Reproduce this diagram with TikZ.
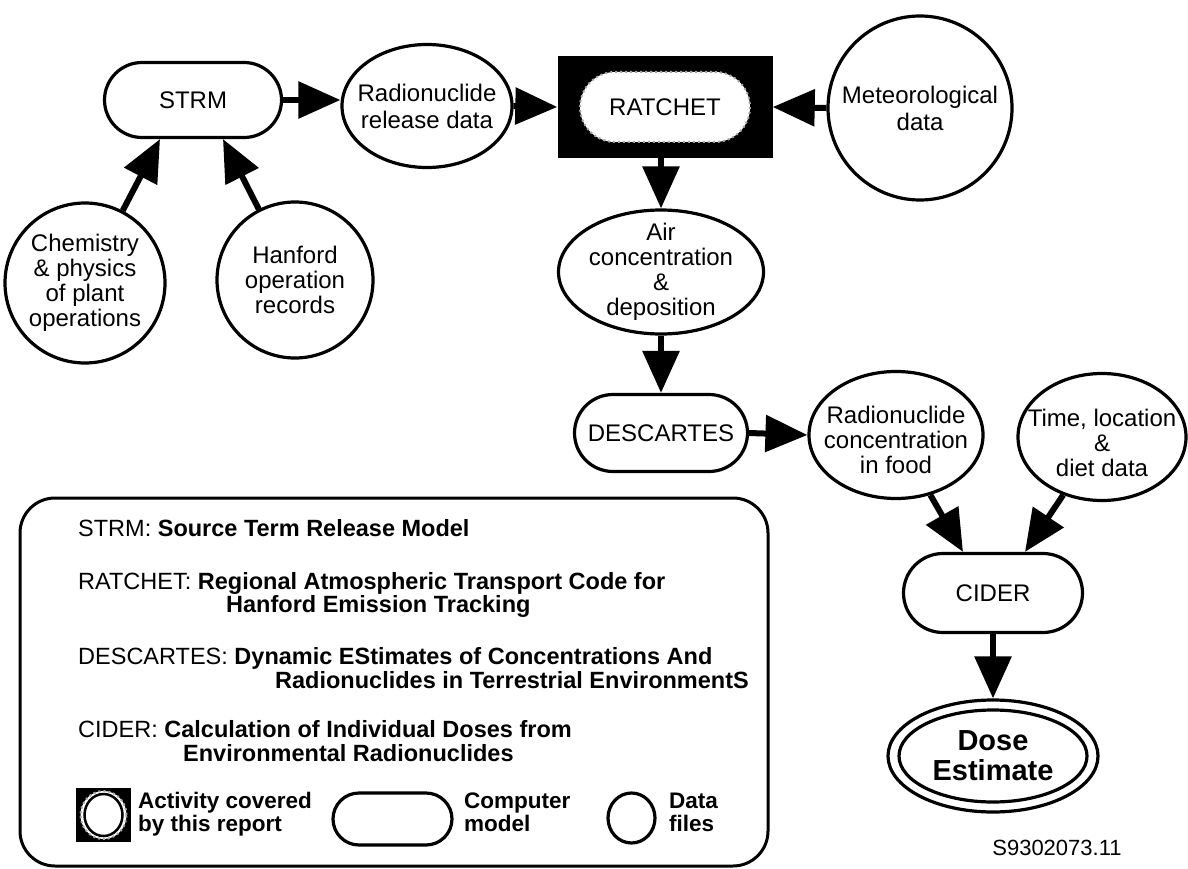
\documentclass[tikz,border=0pt]{standalone}
\usepackage{fontspec}
\setmainfont{Liberation Sans}
\usetikzlibrary{shapes.geometric,shapes.misc,arrows.meta}
\begin{document}
\begin{tikzpicture}[x=1pt,y=-1pt,
  every node/.style={font=\fontsize{24}{27}\selectfont},
  pill/.style={rounded rectangle, draw, line width=3.2pt, inner sep=0pt},
  dfile/.style={ellipse, draw, line width=3.2pt, inner sep=0pt},
  txt/.style={align=center, inner sep=0pt},
  tight/.style={font=\fontsize{24}{25}\selectfont},
  flow/.style={line width=6pt, -{Triangle[length=42pt,width=36pt]}},
  lgd/.style={anchor=base west, inner sep=0pt, font=\fontsize{23.5}{24}\selectfont},
  key/.style={anchor=base west, inner sep=0pt, font=\fontsize{22.5}{23}\selectfont\bfseries},
  speckle/.style={draw=black!35, dash pattern=on 2pt off 3pt, line width=2pt},
]
\useasboundingbox (0,0) rectangle (1188,869);

% ---- computer models and data files ----
\node[pill, minimum width=177pt, minimum height=75pt] (strm) at (193,100) {STRM};
\node[dfile, minimum width=170pt, minimum height=123pt,
      label={[txt]center:Radionuclide\\release data}] (rel) at (427,106) {};
\node[fill=black, minimum width=215pt, minimum height=102pt, inner sep=0pt] (ratchet) at (665,107) {};
\node[rounded rectangle, fill=white, speckle, inner sep=0pt,
      minimum width=170pt, minimum height=70pt] (ratchetin) at (ratchet.center) {RATCHET};
\node[dfile, minimum width=184pt, minimum height=184pt,
      label={[txt]center:Meteorological\\data}] (met) at (920,108) {};
\node[dfile, minimum width=160pt, minimum height=160pt,
      label={[txt,tight]center:Chemistry\\\& physics\\of plant\\operations}] (chem) at (85,283) {};
\node[dfile, minimum width=156pt, minimum height=156pt,
      label={[txt,tight]center:Hanford\\operation\\records}] (han) at (295,280) {};
\node[dfile, minimum width=205pt, minimum height=124pt,
      label={[txt,tight]center:Air\\concentration\\\&\\deposition}] (air) at (661,272) {};
\node[pill, minimum width=173pt, minimum height=77pt] (desc) at (661,433) {DESCARTES};
\node[dfile, minimum width=174pt, minimum height=127pt,
      label={[txt,tight,yshift=-5pt]center:Radionuclide\\concentration\\in food}] (food) at (896,435) {};
\node[dfile, minimum width=168pt, minimum height=127pt,
      label={[txt,tight,yshift=-6pt]center:Time, location\\\&\\diet data}] (time) at (1102,437) {};
\node[pill, minimum width=179pt, minimum height=79pt] (cider) at (993,593) {CIDER};
\node[dfile, minimum width=210pt, minimum height=112pt] (dose) at (993,756) {};
\node[dfile, minimum width=188pt, minimum height=92pt,
      label={[txt,font=\fontsize{29}{30}\selectfont\bfseries]center:Dose\\Estimate}] (dosein) at (dose.center) {};
\node[font=\fontsize{22}{22}\selectfont] (code) at (1057,848) {S9302073.11};

% ---- connectors ----
\draw[flow] (strm.east) -- (strm.east -| rel.west);
\draw[flow] (rel.east) -- (ratchet.west);
\draw[flow] (met.west) -- (ratchet.east);
\draw[flow] (chem) -- ([xshift=-33pt]strm.south);
\draw[flow] (han) -- ([xshift=30pt]strm.south);
\draw[flow] (ratchet.south -| air.north) -- (air.north);
\draw[flow] (air.south) -- (desc.north);
\draw[flow] (desc.east) -- (food.west);
\draw[flow] (food) -- ([xshift=-30pt]cider.north);
\draw[flow] (time) -- ([xshift=32pt]cider.north);
\draw[flow] (cider.south) -- (dose.north);

% ---- legend ----
\node[draw, rectangle, rounded corners=35pt, line width=3pt, inner sep=0pt,
      minimum width=748pt, minimum height=368pt] (legend) at (394,682) {};
\node[lgd] (lg1) at (78,536) {STRM: \textbf{Source Term Release Model}};
\node[lgd] (lg2) at (78,589) {RATCHET: \textbf{Regional Atmospheric Transport Code for}};
\node[lgd] (lg2b) at (226,612) {\textbf{Hanford Emission Tracking}};
\node[lgd] (lg3) at (78,664) {DESCARTES: \textbf{Dynamic EStimates of Concentrations And}};
\node[lgd] (lg3b) at (275,688) {\textbf{Radionuclides in Terrestrial EnvironmentS}};
\node[lgd] (lg4) at (78,737) {CIDER: \textbf{Calculation of Individual Doses from}};
\node[lgd] (lg4b) at (183,761) {\textbf{Environmental Radionuclides}};

\node[fill=black, minimum width=55pt, minimum height=54pt, inner sep=0pt] (key1) at (103.5,815) {};
\node[ellipse, fill=white, speckle, inner sep=0pt,
      minimum width=46pt, minimum height=48pt] (key1ring) at (key1.center) {};
\node[ellipse, fill=white, draw=black, line width=2.5pt, inner sep=0pt,
      minimum width=38pt, minimum height=42pt] (key1in) at (key1.center) {};
\node[pill, minimum width=119pt, minimum height=52pt] (key2) at (392.5,819) {};
\node[dfile, minimum width=47pt, minimum height=50pt] (key3) at (631.5,818) {};
\node[key] (k1a) at (138,808) {Activity covered};
\node[key] (k1b) at (138,831) {by this report};
\node[key] (k2a) at (464,808) {Computer};
\node[key] (k2b) at (464,831) {model};
\node[key] (k3a) at (669,808) {Data};
\node[key] (k3b) at (669,831) {files};
\end{tikzpicture}
\end{document}
